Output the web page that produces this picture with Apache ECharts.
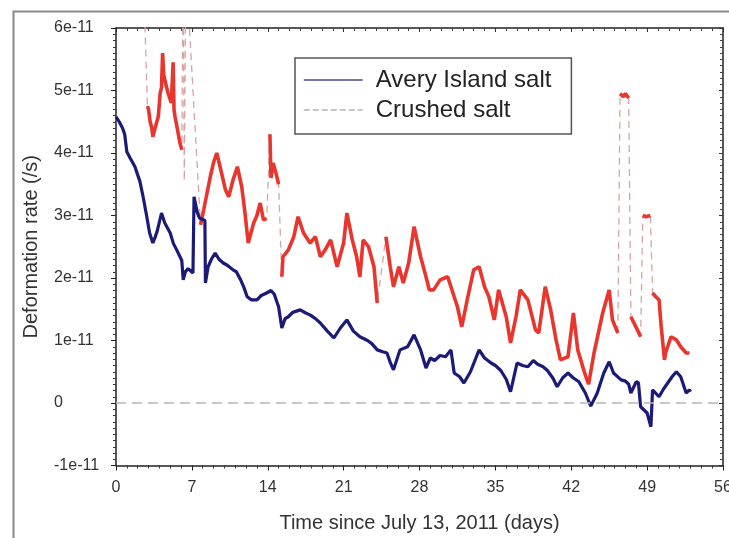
<!DOCTYPE html>
<html>
<head>
<meta charset="utf-8">
<script src="https://cdn.jsdelivr.net/npm/echarts@6/dist/echarts.min.js"></script>
<style>html,body{margin:0;padding:0;background:#fff;}#c{width:729px;height:538px;}</style>
</head>
<body>
<div id="c"></div>
<script>
// Values in units of 1e-11 /s
const averyDays = [0.0,0.3,0.6,0.8,1.0,1.3,1.75,2.0,2.2,2.5,2.8,3.1,3.4,3.6,3.8,4.2,4.5,5.0,5.3,5.6,6.07,6.2,6.4,6.65,7.1,7.2,7.5,7.7,8.2,8.25,8.5,8.8,9.15,9.5,9.9,10.3,10.8,11.1,11.5,11.8,12.1,12.5,13.0,13.4,13.9,14.3,14.6,15.0,15.3,15.6,15.9,16.3,17.0,17.5,17.9,18.4,18.85,19.5,20.1,20.7,21.3,21.9,22.5,23.2,23.6,24.1,24.6,25.0,25.3,25.6,26.2,26.9,27.5,28.1,28.6,29.0,29.4,29.9,30.4,30.9,31.2,31.7,32.1,32.7,33.5,34.0,34.6,35.0,35.5,36.0,36.4,37.0,37.5,38.0,38.5,38.9,39.4,39.8,40.3,40.7,41.2,41.7,42.2,42.7,43.3,43.8,44.4,45.0,45.5,45.9,46.6,47.0,47.3,47.5,48.0,48.2,48.4,49.0,49.35,49.5,50.1,50.5,50.9,51.3,51.7,52.1,52.6,52.9,53.0];
const averyRate = [4.58,4.50,4.40,4.30,4.02,3.92,3.78,3.65,3.55,3.30,3.02,2.72,2.56,2.65,2.75,3.04,2.88,2.72,2.55,2.45,2.28,1.97,2.10,2.15,2.08,3.30,3.05,2.96,2.92,1.92,2.18,2.30,2.40,2.30,2.24,2.20,2.13,2.10,1.97,1.85,1.70,1.65,1.65,1.72,1.76,1.80,1.74,1.54,1.20,1.35,1.38,1.45,1.49,1.44,1.41,1.35,1.28,1.15,1.04,1.20,1.33,1.15,1.06,1.00,0.95,0.85,0.82,0.80,0.65,0.53,0.85,0.90,1.09,0.85,0.56,0.72,0.68,0.76,0.74,0.85,0.48,0.42,0.32,0.50,0.85,0.72,0.64,0.60,0.52,0.38,0.18,0.64,0.60,0.58,0.68,0.62,0.58,0.52,0.40,0.26,0.40,0.48,0.40,0.34,0.16,-0.05,0.16,0.48,0.66,0.48,0.37,0.35,0.30,0.16,0.34,0.32,-0.06,-0.16,-0.38,0.21,0.10,0.22,0.32,0.42,0.50,0.42,0.16,0.21,0.18];

const crushedDays = [2.5,2.9,3.0,3.15,3.3,3.4,3.6,3.9,4.07,4.2,4.3,4.4,4.6,4.8,5.1,5.27,5.35,5.45,5.7,5.9,6.07,6.2,6.3,6.45,7.8,8.1,8.4,8.7,9.0,9.3,9.6,10.1,10.4,10.8,11.2,11.6,11.9,12.2,12.7,13.0,13.3,13.6,13.9,14.2,14.3,14.5,14.8,15.0,15.3,15.4,15.9,16.4,16.8,17.3,17.9,18.4,18.85,19.3,19.8,20.4,21.0,21.3,21.8,22.2,22.5,22.8,23.3,23.8,24.1,24.9,25.3,25.6,26.1,26.5,27.0,27.5,28.1,28.6,28.9,29.3,29.9,30.6,30.9,31.5,31.9,32.4,33.0,33.5,34.0,34.4,34.9,35.3,36.0,36.4,36.9,37.3,38.0,38.7,39.0,39.6,40.1,40.6,41.0,41.7,42.2,42.6,43.2,43.6,44.1,44.9,45.5,45.8,46.3,46.5,46.8,47.0,47.3,47.5,48.1,48.4,48.6,48.9,49.3,49.5,49.8,50.1,50.3,50.6,50.7,51.2,51.7,52.1,52.6,52.9];
const crushedRate = [7.0,4.75,4.70,4.50,4.40,4.26,4.40,4.58,4.95,5.05,5.60,5.25,5.10,4.96,4.80,5.45,4.70,4.58,4.35,4.16,4.05,7.0,3.55,7.0,2.85,3.10,3.36,3.62,3.85,4.00,3.78,3.41,3.30,3.57,3.78,3.46,3.04,2.56,2.88,3.00,3.20,2.93,2.95,4.30,3.60,3.84,3.65,3.50,2.02,2.34,2.45,2.66,2.98,2.72,2.56,2.66,2.34,2.45,2.61,2.18,2.56,3.04,2.61,2.34,2.02,2.61,2.50,2.18,1.60,2.66,2.18,1.86,2.18,1.92,2.24,2.82,2.34,2.02,1.81,1.81,1.97,2.02,1.86,1.54,1.22,1.65,2.13,2.18,1.86,1.70,1.33,1.81,1.38,0.96,1.38,1.81,1.65,1.17,1.12,1.86,1.49,1.01,0.69,0.74,1.44,0.85,0.50,0.30,0.80,1.44,1.81,1.33,1.12,4.95,4.90,4.95,4.88,1.38,1.17,1.06,3.00,2.98,3.00,1.76,1.70,1.65,1.22,0.69,0.80,1.06,1.01,0.90,0.80,0.80];

const xTicks = [0,7,14,21,28,35,42,49,56];
const yTicks = [-1,0,1,2,3,4,5,6];
const seriesNames = ['Avery Island salt','Crushed salt'];
const xTitle = 'Time since July 13, 2011 (days)';
const yTitle = 'Deformation rate (/s)';

const averyData = averyDays.map((d,i)=>[d, averyRate[i]]);
const crushedData = crushedDays.map((d,i)=>[d, crushedRate[i]]);
// solid red segments: break at large jumps (those are drawn only by the dashed connector)
const crushedSolid = [];
crushedData.forEach((p,i)=>{
  crushedSolid.push(p);
  const n = crushedData[i+1];
  if (n && Math.abs(n[1]-p[1]) > 0.9) crushedSolid.push([p[0], '-']);
});

const FONT = 'Liberation Sans, Arial, sans-serif';
const axisLineStyle = {color:'#222', width:1.5};

const chart = echarts.init(document.getElementById('c'), null, {renderer:'canvas'});
chart.setOption({
  animation:false,
  backgroundColor:'#fff',
  textStyle:{fontFamily:FONT},
  graphic:[{type:'rect', left:11, top:9, shape:{x:0,y:0,width:740,height:560}, style:{fill:'none', stroke:'#888', lineWidth:2}, z:-1}],
  grid:{left:116, right:6, top:28, bottom:72.5, containLabel:false, outerBoundsMode:'none'},
  legend:{
    show:true,
    orient:'vertical', left:295, top:58,
    backgroundColor:'#fff', borderColor:'#555', borderWidth:1.5, borderRadius:0,
    padding:[10,20,12,8], itemGap:6, itemWidth:59, itemHeight:14,
    itemStyle:{opacity:0},
    textStyle:{fontSize:24, color:'#222', fontFamily:FONT, padding:[0,0,0,8]},
    data:[
      {name:seriesNames[0], itemStyle:{opacity:0}, lineStyle:{color:'#4a4a8c', width:1.5}},
      {name:seriesNames[1], itemStyle:{opacity:0}, lineStyle:{color:'#b4b4b4', width:1.5, type:'dashed'}}
    ]
  },
  xAxis:[{
    type:'value', min:xTicks[0], max:xTicks[xTicks.length-1], interval:7,
    name:xTitle, nameLocation:'middle', nameGap:48,
    nameTextStyle:{fontSize:20, color:'#333', fontFamily:FONT},
    axisLine:{onZero:false, lineStyle:axisLineStyle}, splitLine:{show:false},
    axisTick:{length:5, lineStyle:{color:'#222'}},
    minorTick:{show:true, splitNumber:7, length:3, lineStyle:{color:'#333'}},
    axisLabel:{fontSize:16, color:'#333', margin:14, fontFamily:FONT}
  },{
    type:'value', position:'top', min:0, max:56, interval:7,
    axisLine:{onZero:false, lineStyle:axisLineStyle}, splitLine:{show:false},
    axisTick:{inside:true, length:4, lineStyle:{color:'#333'}},
    minorTick:{show:true, splitNumber:7, length:3, lineStyle:{color:'#444'}},
    axisLabel:{show:false}
  }],
  yAxis:[{
    type:'value', min:yTicks[0], max:yTicks[yTicks.length-1], interval:1,
    name:yTitle, nameLocation:'middle', nameGap:75, nameRotate:90,
    nameTextStyle:{fontSize:20, color:'#333', fontFamily:FONT},
    axisLine:{show:true, onZero:false, lineStyle:axisLineStyle}, splitLine:{show:false},
    axisTick:{show:true, length:5, lineStyle:{color:'#222'}},
    minorTick:{show:true, splitNumber:10, length:3, lineStyle:{color:'#333'}},
    axisLabel:{fontSize:16, color:'#333', margin:62, align:'left', fontFamily:FONT,
      formatter:v=> v===0 ? '0' : v+'e-11'}
  },{
    type:'value', position:'right', min:-1, max:6, interval:1,
    axisLine:{show:true, onZero:false, lineStyle:axisLineStyle}, splitLine:{show:false},
    axisTick:{show:true, inside:true, length:4, lineStyle:{color:'#333'}},
    minorTick:{show:true, splitNumber:10, length:3, lineStyle:{color:'#444'}},
    axisLabel:{show:false}
  }],
  series:[
    {
      name:seriesNames[1], type:'line', data:crushedData, symbol:'none', z:2,
      lineStyle:{color:'#d9a3a3', width:1.3, type:[7,5]}
    },
    {
      name:'crushed-data', type:'line', data:crushedSolid, symbol:'none', connectNulls:false, z:3,
      lineStyle:{color:'#e8352d', width:3.6}
    },
    {
      name:seriesNames[0], type:'line', data:averyData, symbol:'none', z:4,
      lineStyle:{color:'#1b1a78', width:3.2},
      markLine:{silent:true, symbol:'none', label:{show:false},
        lineStyle:{color:'#b8b8b8', width:1.5, type:[10,6]},
        data:[{yAxis:0}]}
    }
  ]
});
</script>
</body>
</html>
